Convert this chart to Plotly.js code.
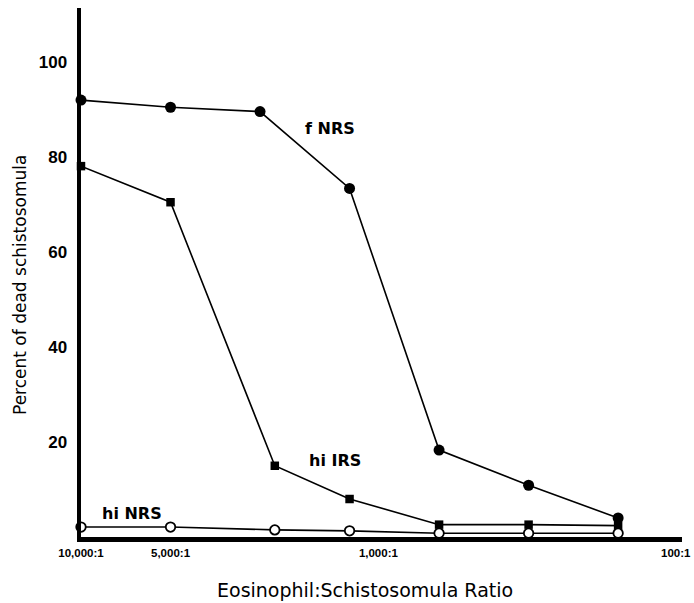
<!DOCTYPE html>
<html>
<head>
<meta charset="utf-8">
<script src="https://cdn.plot.ly/plotly-3.0.1.min.js"></script>
<style>html,body{margin:0;padding:0;background:#fff;}#chart{width:694px;height:603px;}</style>
</head>
<body>
<div id="chart"></div>
<script>
// Eosinophil:schistosomula ratio (x) and percent of dead schistosomula (y)
const ratioFNRS = [10000, 5000, 2500, 1250, 625, 312.5, 156.25];
const deadFNRS  = [92.0, 90.5, 89.6, 73.4, 18.3, 10.9, 4.0];

const ratioHiIRS = [10000, 5000, 2230, 1250, 625, 312.5, 156.25];
const deadHiIRS  = [78.1, 70.5, 15.0, 8.0, 2.6, 2.6, 2.4];

const ratioHiNRS = [10000, 5000, 2230, 1250, 625, 312.5, 156.25];
const deadHiNRS  = [2.1, 2.1, 1.5, 1.3, 0.8, 0.8, 0.8];

const xTickVals = [10000, 5000, 1000, 100];
const xTickText = ['10,000:1', '5,000:1', '1,000:1', '100:1'];
const yTickVals = [20, 40, 60, 80, 100];

const seriesLabels = ['f NRS', 'hi IRS', 'hi NRS'];
const xTitle = 'Eosinophil:Schistosomula Ratio';
const yTitle = 'Percent of dead schistosomula';

const lineStyle = {color: '#000', width: 1.6};
const traces = [
  {x: ratioFNRS, y: deadFNRS, name: seriesLabels[0], type: 'scatter', mode: 'lines+markers',
   line: lineStyle, marker: {symbol: 'circle', size: 11, color: '#000'}, cliponaxis: false},
  {x: ratioHiIRS, y: deadHiIRS, name: seriesLabels[1], type: 'scatter', mode: 'lines+markers',
   line: lineStyle, marker: {symbol: 'square', size: 8.5, color: '#000'}, cliponaxis: false},
  {x: ratioHiNRS, y: deadHiNRS, name: seriesLabels[2], type: 'scatter', mode: 'lines+markers',
   line: lineStyle, marker: {symbol: 'circle', size: 9.5, color: '#fff', line: {color: '#000', width: 1.8}}, cliponaxis: false}
];

const font = 'Liberation Sans, Arial, Helvetica, sans-serif';
const wide = 'DejaVu Sans, Verdana, sans-serif';
const layout = {
  width: 694, height: 603,
  margin: {l: 81, r: 12, t: 8, b: 66},
  paper_bgcolor: '#fff', plot_bgcolor: '#fff',
  showlegend: false,
  font: {family: font, color: '#000'},
  xaxis: {
    type: 'log', range: [4, 1.979],
    showgrid: false, zeroline: false,
    showline: true, linecolor: '#000', linewidth: 4.5,
    tickmode: 'array', tickvals: xTickVals, ticktext: xTickText,
    ticks: '', ticklabelstandoff: 2,
    tickfont: {family: font, size: 11.5, color: '#000', weight: 'bold'}
  },
  yaxis: {
    range: [0, 111.4],
    showgrid: false, zeroline: false,
    showline: true, linecolor: '#000', linewidth: 4.5,
    tickmode: 'array', tickvals: yTickVals,
    ticks: '', ticklabelstandoff: 6,
    tickfont: {family: font, size: 17, color: '#000', weight: 'bold'}
  },
  annotations: [
    {x: 0.472, y: 590, xref: 'paper', yref: 'paper', text: xTitle, showarrow: false,
     xanchor: 'center', yanchor: 'middle', font: {family: wide, size: 19, color: '#000'}},
    {x: -0.1, y: 0.46, xref: 'paper', yref: 'paper', text: yTitle, showarrow: false, textangle: -90,
     xanchor: 'center', yanchor: 'middle', font: {family: wide, size: 17, color: '#000'}},
    {x: Math.log10(1786), y: 86.1, xref: 'x', yref: 'y', text: seriesLabels[0], showarrow: false,
     xanchor: 'left', yanchor: 'middle', font: {family: wide, size: 16, color: '#000', weight: 'bold'}},
    {x: Math.log10(1738), y: 16.2, xref: 'x', yref: 'y', text: seriesLabels[1], showarrow: false,
     xanchor: 'left', yanchor: 'middle', font: {family: wide, size: 16, color: '#000', weight: 'bold'}},
    {x: Math.log10(8630), y: 5.05, xref: 'x', yref: 'y', text: seriesLabels[2], showarrow: false,
     xanchor: 'left', yanchor: 'middle', font: {family: wide, size: 16, color: '#000', weight: 'bold'}}
  ]
};
// x-title annotation: convert pixel y (590) to paper units
layout.annotations[0].y = (603 - 66 - 590) / (603 - 66 - 8);
// y-title: centred at x≈20 px, y≈285 px
layout.annotations[1].x = (20 - 81) / (694 - 81 - 12);
layout.annotations[1].y = (603 - 66 - 285) / (603 - 66 - 8);
layout.annotations[0].x = (365 - 81) / (694 - 81 - 12);

Plotly.newPlot('chart', traces, layout, {displayModeBar: false, staticPlot: true});
</script>
</body>
</html>
